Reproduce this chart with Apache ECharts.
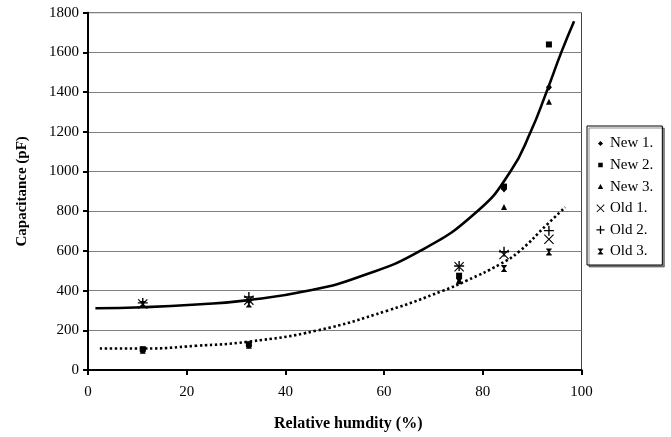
<!DOCTYPE html>
<html>
<head>
<meta charset="utf-8">
<script src="https://cdn.jsdelivr.net/npm/echarts@6/dist/echarts.min.js"></script>
<style>
html,body{margin:0;padding:0;background:#fff;}
#chart{width:671px;height:437px;}
</style>
</head>
<body>
<div id="chart"></div>
<script>
// ---- data ----
var seriesNames = ['New 1.', 'New 2.', 'New 3.', 'Old 1.', 'Old 2.', 'Old 3.'];
var new1 = [[11.1, 100], [32.6, 125], [75.2, 460], [84.3, 912], [93.4, 1424]];
var new2 = [[11.1, 105], [32.6, 130], [75.2, 475], [84.3, 924], [93.4, 1640]];
var new3 = [[11.1, 97], [32.6, 122], [75.2, 452], [84.3, 821], [93.4, 1352]];
var old1 = [[11.1, 333], [32.6, 352], [75.2, 520], [84.3, 582], [93.4, 659]];
var old2 = [[11.1, 338], [32.6, 368], [75.2, 524], [84.3, 596], [93.4, 702]];
var old3 = [[11.1, 330], [32.6, 332], [75.2, 450], [84.3, 511], [93.4, 595]];
// trend curves
var fitSolid = [[1.5, 311], [11.1, 316], [22, 330], [32.6, 352], [44.8, 400], [55, 470], [67.3, 600],
  [78.9, 800], [85.6, 1000], [89.7, 1200], [92.9, 1400], [95.9, 1600], [98.5, 1757]];
var fitDotted = [[2.4, 108], [11.1, 108], [22, 122], [32.6, 143], [46.6, 200], [60.8, 300], [72, 400],
  [76.7, 450], [83.5, 533], [87.5, 600], [92.9, 730], [96.7, 820]];
var yTicks = {min: 0, max: 1800, step: 200};
var xTicks = {min: 0, max: 100, step: 20};

var FONT = 'Liberation Serif';
var sym = {
  plus: 'path://M4.3,0H5.7V4.3H10V5.7H5.7V10H4.3V5.7H0V4.3H4.3Z',
  cross: 'path://M0,0.8L0.8,0L5,4.2L9.2,0L10,0.8L5.8,5L10,9.2L9.2,10L5,5.8L0.8,10L0,9.2L4.2,5Z',
  old3: 'path://M1,0H9V1.6H8.2L5.9,5L8.2,8.4H9V10H1V8.4H1.8L4.1,5L1.8,1.6H1Z'
};
// legend icons padded with invisible corner specks so that sizes differ
var pad = 'M0,0L0.02,0L0,0.02Z M10,10L9.98,10L10,9.98Z ';
var legendIcons = [
  'path://' + pad + 'M5,2.2L7.8,5L5,7.8L2.2,5Z',
  'path://' + pad + 'M2.5,2.5H7.5V7.5H2.5Z',
  'path://' + pad + 'M5,2L8,7.6H2Z',
  'path://' + pad + 'M0.5,1.2L1.2,0.5L5,4.3L8.8,0.5L9.5,1.2L5.7,5L9.5,8.8L8.8,9.5L5,5.7L1.2,9.5L0.5,8.8L4.3,5Z',
  'path://' + pad + 'M4.3,0.5H5.7V4.3H9.5V5.7H5.7V9.5H4.3V5.7H0.5V4.3H4.3Z',
  'path://' + pad + 'M2,1.6H8V2.9H7.3L5.7,5L7.3,7.1H8V8.4H2V7.1H2.7L4.3,5L2.7,2.9H2Z'
];

var chart = echarts.init(document.getElementById('chart'), null, {renderer: 'canvas'});

function scatter(name, data, symbol, size) {
  return {
    name: name, type: 'scatter', data: data, symbol: symbol, symbolSize: size,
    symbolKeepAspect: true,
    itemStyle: {color: '#000', opacity: 1}, z: 3, silent: true
  };
}

var option = {
  animation: false,
  backgroundColor: '#fff',
  grid: {left: 88, right: 89.5, top: 12.7, bottom: 59, show: true, borderColor: '#444', borderWidth: 1, containLabel: false},
  xAxis: {
    type: 'value', min: xTicks.min, max: xTicks.max, interval: xTicks.step,
    name: 'Relative humdity (%)', nameLocation: 'middle', nameGap: 46,
    nameTextStyle: {fontFamily: FONT, fontWeight: 'bold', fontSize: 16, color: '#000', padding: [0, 0, 0, 27]},
    axisLine: {show: true, lineStyle: {color: '#000', width: 2}},
    axisTick: {show: true, length: 5, lineStyle: {color: '#000', width: 2}},
    axisLabel: {fontFamily: FONT, fontSize: 15, color: '#000', margin: 15},
    splitLine: {show: false}
  },
  yAxis: {
    type: 'value', min: yTicks.min, max: yTicks.max, interval: yTicks.step,
    name: 'Capacitance (pF)', nameLocation: 'middle', nameGap: 58, nameRotate: 90,
    nameTextStyle: {fontFamily: FONT, fontWeight: 'bold', fontSize: 15, color: '#000'},
    axisLine: {show: true, lineStyle: {color: '#000', width: 2}},
    axisTick: {show: true, length: 5, lineStyle: {color: '#000', width: 2}},
    axisLabel: {fontFamily: FONT, fontSize: 15, color: '#000', margin: 9,
      formatter: function (v) { return String(v); }},
    splitLine: {show: true, lineStyle: {color: '#808080', width: 1}}
  },
  legend: {
    orient: 'vertical', left: 587, top: 126,
    padding: [10, 9, 6, 9], itemGap: 6.6, itemWidth: 9, itemHeight: 9,
    backgroundColor: '#fff', borderColor: '#000', borderWidth: 1,
    shadowColor: 'rgba(0,0,0,0.45)', shadowOffsetX: 2, shadowOffsetY: 2, shadowBlur: 0,
    textStyle: {fontFamily: FONT, fontSize: 15, color: '#000', lineHeight: 15},
    selectedMode: false,
    data: seriesNames.map(function (n, i) { return {name: n, icon: legendIcons[i], itemStyle: {color: '#000'}}; })
  },
  series: [
    {type: 'line', data: fitSolid, smooth: 0.5, showSymbol: false, symbol: 'none', silent: true,
      lineStyle: {color: '#000', width: 2.6}, z: 2},
    {type: 'line', data: fitDotted, smooth: 0.5, showSymbol: false, symbol: 'none', silent: true,
      lineStyle: {color: '#000', width: 2.6, type: [2.4, 2.6]}, z: 2},
    scatter(seriesNames[0], new1, 'diamond', [6, 7]),
    scatter(seriesNames[1], new2, 'rect', 6),
    scatter(seriesNames[2], new3, 'triangle', 6),
    scatter(seriesNames[3], old1, sym.cross, 10),
    scatter(seriesNames[4], old2, sym.plus, 10),
    scatter(seriesNames[5], old3, sym.old3, 7)
  ]
};
chart.setOption(option);
</script>
</body>
</html>
